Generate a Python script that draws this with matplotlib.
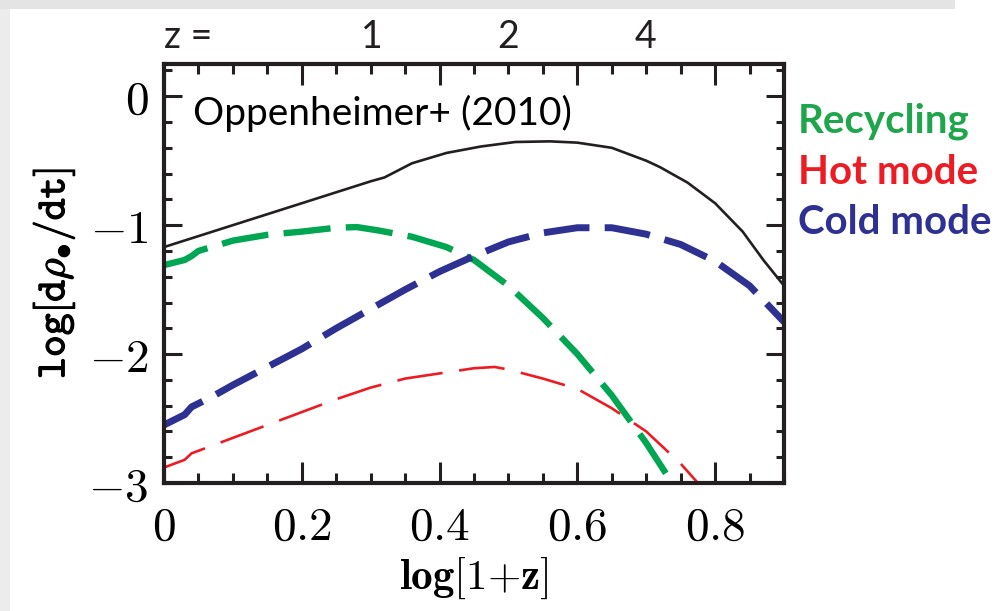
import numpy as np
import matplotlib
matplotlib.use("Agg")
import matplotlib.pyplot as plt
from matplotlib.ticker import MultipleLocator, FuncFormatter
from matplotlib.patches import Rectangle
import matplotlib.patheffects as pe

plt.rcParams['mathtext.fontset'] = 'cm'
plt.rcParams['lines.scale_dashes'] = False

# ---- data ----
total_x = [0, 0.05, 0.1, 0.15, 0.2, 0.25, 0.3, 0.32, 0.36, 0.41, 0.46, 0.51, 0.56,
           0.60, 0.65, 0.70, 0.72, 0.76, 0.80, 0.84, 0.87, 0.90]
total_y = [-1.17, -1.085, -1.0, -0.915, -0.83, -0.745, -0.66, -0.63, -0.52, -0.44,
           -0.39, -0.355, -0.35, -0.36, -0.40, -0.50, -0.55, -0.67, -0.83, -1.05,
           -1.27, -1.47]

recyc_x = [0, 0.03, 0.04, 0.05, 0.1, 0.15, 0.2, 0.25, 0.28, 0.31, 0.36, 0.41, 0.45,
           0.50, 0.55, 0.60, 0.65, 0.70, 0.74]
recyc_y = [-1.31, -1.27, -1.24, -1.20, -1.12, -1.075, -1.05, -1.02, -1.015, -1.04,
           -1.09, -1.17, -1.27, -1.47, -1.72, -2.0, -2.32, -2.69, -3.02]

hot_x = [0, 0.03, 0.04, 0.1, 0.15, 0.2, 0.25, 0.3, 0.35, 0.4, 0.45, 0.48, 0.5, 0.55,
         0.6, 0.65, 0.7, 0.75, 0.78]
hot_y = [-2.88, -2.82, -2.77, -2.65, -2.55, -2.45, -2.35, -2.26, -2.19, -2.15, -2.11,
         -2.10, -2.12, -2.19, -2.27, -2.42, -2.60, -2.85, -3.03]

cold_x = [0, 0.03, 0.04, 0.07, 0.1, 0.15, 0.2, 0.25, 0.3, 0.35, 0.4, 0.45, 0.5, 0.55,
          0.6, 0.65, 0.7, 0.75, 0.8, 0.85, 0.9]
cold_y = [-2.55, -2.47, -2.41, -2.33, -2.24, -2.1, -1.96, -1.80, -1.65, -1.50, -1.36,
          -1.24, -1.13, -1.06, -1.02, -1.02, -1.07, -1.15, -1.28, -1.47, -1.75]

x_ticks = [0, 0.2, 0.4, 0.6, 0.8]
y_ticks = [-3, -2, -1, 0]
z_labels = ['1', '2', '4']
z_label_pos = [0.301, 0.5, 0.699]

legend_names = ['Recycling', 'Hot mode', 'Cold mode']
legend_colors = ['#1fa64c', '#ed1c24', '#2e3192']

GREEN = '#00a651'
RED = '#ed1c24'
BLUE = '#2e3192'
INK = '#231f20'

W, H = 997, 611
fig = plt.figure(figsize=(W / 100, H / 100), dpi=100)
fig.patch.set_facecolor('white')

# card shadow strips
fig.patches.append(Rectangle((0, 1 - 9 / H), 955 / W, 9 / H, transform=fig.transFigure,
                             facecolor='#e4e4e4', edgecolor='none', zorder=0))
fig.patches.append(Rectangle((0, 0), 10 / W, 1 - 9 / H, transform=fig.transFigure,
                             facecolor='#ececec', edgecolor='none', zorder=0))

ax = fig.add_axes([164 / W, 1 - 483 / H, (784 - 164) / W, (483 - 64) / H])
ax.set_xlim(0, 0.9)
ax.set_ylim(-3, 0.25)

ax.plot(total_x, total_y, color=INK, lw=1.9, solid_joinstyle='round')
ax.plot(recyc_x, recyc_y, color=GREEN, lw=4.6, dashes=(34, 11))
ax.plot(hot_x, hot_y, color=RED, lw=1.9, dashes=(33, 12))
ax.plot(cold_x, cold_y, color=BLUE, lw=5.0, dashes=(33, 11))

for s in ax.spines.values():
    s.set_linewidth(3.0)
    s.set_color(INK)

ax.xaxis.set_major_locator(MultipleLocator(0.2))
ax.xaxis.set_minor_locator(MultipleLocator(0.05))
ax.yaxis.set_major_locator(MultipleLocator(1))
ax.yaxis.set_minor_locator(MultipleLocator(0.2))
ax.set_xticks(x_ticks)
ax.set_yticks(y_ticks)


def fmt(v, pos):
    if abs(v) < 1e-9:
        return r'$0$'
    if abs(v - round(v)) < 1e-9:
        return r'$%d$' % int(round(v))
    return r'$%.1f$' % v


ax.xaxis.set_major_formatter(FuncFormatter(fmt))
ax.yaxis.set_major_formatter(FuncFormatter(fmt))

ax.tick_params(which='both', direction='in', top=True, right=True, color=INK)
ax.tick_params(axis='x', which='major', length=15, width=2.2, pad=16, labelsize=34)
ax.tick_params(axis='x', which='minor', length=7, width=2.2)
ax.tick_params(axis='y', which='major', length=13, width=2.2, pad=11, labelsize=34)
ax.tick_params(axis='y', which='minor', length=6, width=2.2)

ax.set_xlabel(r'$\mathbf{log[1{+}z]}$', fontsize=31, labelpad=4)
ax.set_ylabel(r'$\mathtt{log[d}\rho_{\bullet}\mathtt{/dt]}$', fontsize=30, labelpad=8)
ax.yaxis.label.set_path_effects([pe.withStroke(linewidth=0.8, foreground='black')])

ax.text(0.042, -0.13, 'Oppenheimer+ (2010)', fontsize=28, family='Lato',
        color='black', va='center', ha='left')

# top redshift labels
ax.text(0.0, 1.0 + 27 / 419, 'z =', transform=ax.transAxes, fontsize=27,
        family='Lato', ha='left', va='center', color=INK)
for lab, xp in zip(z_labels, z_label_pos):
    ax.text(xp, 0.25 + 27 / 419 * 3.25, lab, fontsize=27, family='Lato',
            ha='center', va='center', color=INK)

# legend texts
leg_y = [121, 172, 223]
for name, col, yy in zip(legend_names, legend_colors, leg_y):
    fig.text(798 / W, 1 - yy / H, name, fontsize=29, family='Lato', weight='bold',
             color=col, ha='left', va='center')

fig.savefig('out.png', dpi=100)
